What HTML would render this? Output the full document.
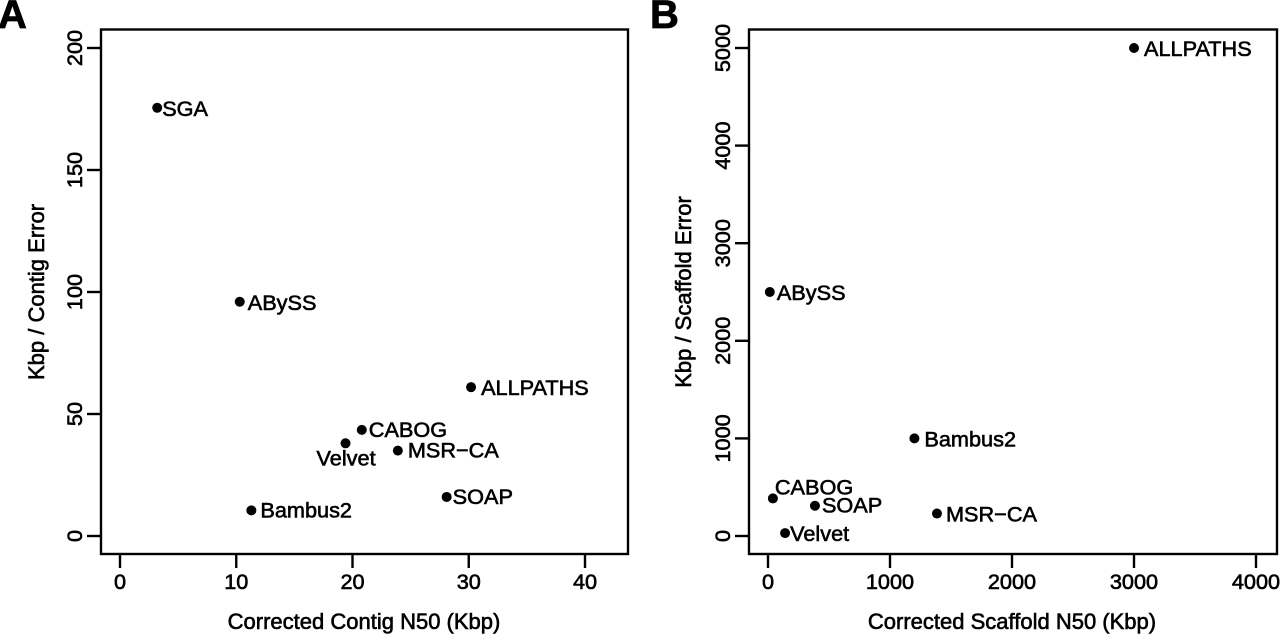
<!DOCTYPE html>
<html>
<head>
<meta charset="utf-8">
<style>
html,body{margin:0;padding:0;background:#fff;width:1280px;height:634px;overflow:hidden}
svg{display:block}
text{font-family:"Liberation Sans",sans-serif;font-size:21.7px;fill:#000;stroke:#000;stroke-width:0.6px}
.title{font-size:22px}
.panel{font-size:40px;font-weight:bold;stroke-width:0.8px}
</style>
</head>
<body>
<svg id="chart" width="1280" height="634" viewBox="0 0 1280 634" xmlns="http://www.w3.org/2000/svg"></svg>
<script>
const namesA = ["SGA", "ABySS", "ALLPATHS", "CABOG", "Velvet", "MSR\u2212CA", "SOAP", "Bambus2"];
const contigN50 = [3.2, 10.3, 30.2, 20.8, 19.4, 23.9, 28.1, 11.3];
const kbpPerContigError = [175.5, 96, 61, 43.5, 38, 35, 16, 10.5];
const xTicksA = [0, 10, 20, 30, 40];
const yTicksA = [0, 50, 100, 150, 200];

const namesB = ["ALLPATHS", "ABySS", "Bambus2", "CABOG", "SOAP", "MSR\u2212CA", "Velvet"];
const scaffoldN50 = [3000, 15, 1200, 40, 385, 1385, 140];
const kbpPerScaffoldError = [5000, 2500, 1000, 385, 310, 230, 30];
const xTicksB = [0, 1000, 2000, 3000, 4000];
const yTicksB = [0, 1000, 2000, 3000, 4000, 5000];

const NS = "http://www.w3.org/2000/svg";
const svg = document.getElementById("chart");

function make(tag, attrs, text) {
  const el = document.createElementNS(NS, tag);
  for (const k in attrs) el.setAttribute(k, attrs[k]);
  if (text !== undefined) el.textContent = text;
  svg.appendChild(el);
  return el;
}

function slug(s) {
  return String(s).toLowerCase().replace(/[^a-z0-9]+/g, "-");
}

function drawPanel(cfg) {
  const sx = v => cfg.x0 + (v - cfg.xTicks[0]) / (cfg.xTicks[cfg.xTicks.length - 1] - cfg.xTicks[0]) * (cfg.x1 - cfg.x0);
  const sy = v => cfg.y0 + (v - cfg.yTicks[0]) / (cfg.yTicks[cfg.yTicks.length - 1] - cfg.yTicks[0]) * (cfg.y1 - cfg.y0);

  const letter = make("text", {x: cfg.letterX, y: 28, class: "panel"}, cfg.letter);
  
  

  const box = make("rect", {x: cfg.left, y: 29.5, width: cfg.right - cfg.left, height: 524.5, fill: "none", stroke: "#000", "stroke-width": 2.4});
  
  

  cfg.xTicks.forEach(t => {
    const tick = make("line", {x1: sx(t), x2: sx(t), y1: 554, y2: 568, stroke: "#000", "stroke-width": 2.4});
    
    
    const lab = make("text", {x: sx(t), y: 589, "text-anchor": "middle"}, t);
    
    
  });

  cfg.yTicks.forEach(t => {
    const tick = make("line", {x1: cfg.left, x2: cfg.left - 14, y1: sy(t), y2: sy(t), stroke: "#000", "stroke-width": 2.4});
    
    
    const bx = cfg.left - 19;
    const lab = make("text", {x: bx, y: sy(t), "text-anchor": "middle", transform: "rotate(-90 " + bx + " " + sy(t) + ")"}, t);
    
    
  });

  const xt = make("text", {x: cfg.xTitleX, y: 629, "text-anchor": "middle", class: "title"}, cfg.xTitle);
  
  

  const yt = make("text", {x: cfg.yTitleX, y: cfg.yTitleY, "text-anchor": "middle", class: "title", transform: "rotate(-90 " + cfg.yTitleX + " " + cfg.yTitleY + ")"}, cfg.yTitle);
  
  

  cfg.names.forEach((n, i) => {
    const cx = sx(cfg.xs[i]);
    const cy = sy(cfg.ys[i]);
    const pt = make("circle", {cx: cx, cy: cy, r: 5, fill: "#000"});
    
    
    const off = cfg.offsets[i];
    const lab = make("text", {x: cx + off[0], y: cy + off[1] + 7}, n);
    
    
  });
}

drawPanel({
  id: "a", letter: "A", letterX: -2,
  left: 101, right: 628, x0: 120, x1: 585, y0: 536, y1: 48,
  names: namesA, xs: contigN50, ys: kbpPerContigError,
  xTicks: xTicksA, yTicks: yTicksA,
  xTitle: "Corrected Contig N50 (Kbp)", xTitleX: 364,
  yTitle: "Kbp / Contig Error", yTitleX: 44, yTitleY: 292,
  offsets: [[5, 1], [8, 1], [10, 1], [7, 0], [-29, 15], [10, 0], [6, 0], [9, 0]]
});

drawPanel({
  id: "b", letter: "B", letterX: 650,
  left: 749, right: 1277, x0: 768, x1: 1256, y0: 536, y1: 48,
  names: namesB, xs: scaffoldN50, ys: kbpPerScaffoldError,
  xTicks: xTicksB, yTicks: yTicksB,
  xTitle: "Corrected Scaffold N50 (Kbp)", xTitleX: 1012,
  yTitle: "Kbp / Scaffold Error", yTitleX: 691, yTitleY: 292,
  offsets: [[10, 1], [7, 1], [10, 1], [2, -11], [7, 0], [9, 1], [5, 1]]
});
</script>
</body>
</html>
